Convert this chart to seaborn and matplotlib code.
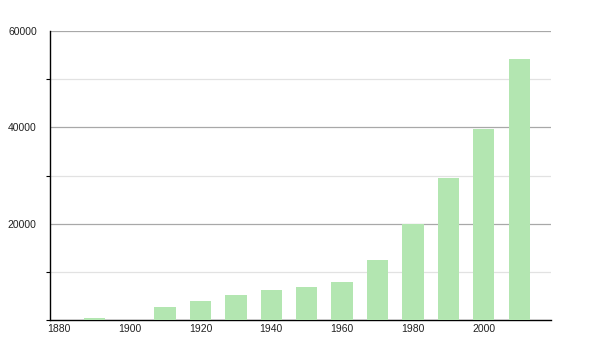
import matplotlib
matplotlib.use("Agg")
import matplotlib.pyplot as plt
from matplotlib.ticker import MultipleLocator
import seaborn as sns
import pandas as pd

years = [1890, 1910, 1920, 1930, 1940, 1950, 1960, 1970, 1980, 1990, 2000, 2010]
population = [500, 2700, 4000, 5250, 6250, 6850, 7900, 12450, 19950, 29500, 39650, 54200]
xtick_labels = [1880, 1900, 1920, 1940, 1960, 1980, 2000]
ytick_labels = [20000, 40000, 60000]

sns.set_theme(style="white")
plt.rcParams['font.family'] = ['Liberation Sans', 'DejaVu Sans']

df = pd.DataFrame({"year": years, "pop": population})

fig = plt.figure(figsize=(6, 3.5), dpi=100)
ax = fig.add_axes([50/600, 1-320/350, (551-50)/600, (320-31)/350])

sns.barplot(data=df, x="year", y="pop", native_scale=True, width=0.6,
            color="#b3e6b1", saturation=1, edgecolor="none", ax=ax, zorder=3)

ax.set_xlim(1877.5, 2019)
ax.set_ylim(0, 60000)
ax.set_xticks(xtick_labels)
ax.set_xticklabels([str(v) for v in xtick_labels])
ax.set_yticks(ytick_labels)
ax.set_yticklabels([str(v) for v in ytick_labels])
ax.yaxis.set_minor_locator(MultipleLocator(10000))

ax.grid(axis="y", which="major", color="#a8a8a8", linewidth=0.9, zorder=0)
ax.grid(axis="y", which="minor", color="#e2e2e2", linewidth=0.9, zorder=0)
ax.set_axisbelow(True)

for s in ["top", "right"]:
    ax.spines[s].set_visible(False)
for s in ["left", "bottom"]:
    ax.spines[s].set_color("black")
    ax.spines[s].set_linewidth(1.0)

ax.tick_params(axis="x", length=0, labelsize=7.5, pad=3, colors="#222222")
ax.tick_params(axis="y", which="major", length=0, labelsize=7.5, pad=9.5, colors="#222222")
ax.tick_params(axis="y", which="minor", length=3, width=0.8, color="black", left=True)
ax.set_xlabel("")
ax.set_ylabel("")

fig.savefig("out.png", dpi=100)
